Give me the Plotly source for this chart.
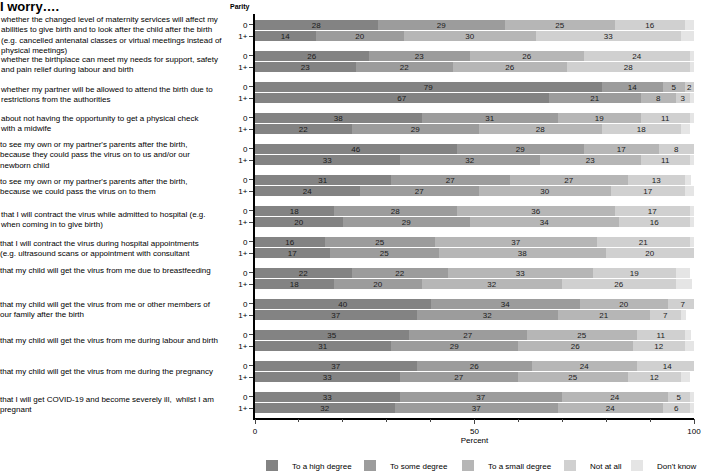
import plotly.graph_objects as go

questions = [
    "whether the changed level of maternity services will affect my<br>abilities to give birth and to look after the child after the birth<br>(e.g. cancelled antenatal classes or virtual meetings instead of<br>physical meetings)",
    "whether the birthplace can meet my needs for support, safety<br>and pain relief during labour and birth",
    "whether my partner will be allowed to attend the birth due to<br>restrictions from the authorities",
    "about not having the opportunity to get a physical check<br>with a midwife",
    "to see my own or my partner's parents after the birth,<br>because they could pass the virus on to us and/or our<br>newborn child",
    "to see my own or my partner's parents after the birth,<br>because we could pass the virus on to them",
    "that I will contract the virus while admitted to hospital (e.g.<br>when coming in to give birth)",
    "that I will contract the virus during hospital appointments<br>(e.g. ultrasound scans or appointment with consultant",
    "that my child will get the virus from me due to breastfeeding",
    "that my child will get the virus from me or other members of<br>our family after the birth",
    "that my child will get the virus from me during labour and birth",
    "that my child will get the virus from me during the pregnancy",
    "that I will get COVID-19 and become severely ill,  whilst I am<br>pregnant",
]
parity = ["0", "1+"]
categories = ["To a high degree", "To some degree", "To a small degree", "Not at all", "Don't know"]

# values per question: [parity 0, parity 1+]
high_degree = [28, 14, 26, 23, 79, 67, 38, 22, 46, 33, 31, 24, 18, 20, 16, 17, 22, 18, 40, 37, 35, 31, 37, 33, 33, 32]
some_degree = [29, 20, 23, 22, 14, 21, 31, 29, 29, 32, 27, 27, 28, 29, 25, 25, 22, 20, 34, 32, 27, 29, 26, 27, 37, 37]
small_degree = [25, 30, 26, 26, 5, 8, 19, 28, 17, 23, 27, 30, 36, 34, 37, 38, 33, 32, 20, 21, 25, 26, 24, 25, 24, 24]
not_at_all = [16, 33, 24, 28, 2, 3, 11, 18, 8, 11, 13, 17, 17, 16, 21, 20, 19, 26, 7, 7, 11, 12, 14, 12, 5, 6]
dont_know = [2.4, 3, 1.2, 1.5, 0.5, 1, 1, 2, 0.8, 1, 1.4, 2, 1, 1, 1, 0.8, 3.2, 3.5, 0.5, 1.1, 1.3, 2, 0.6, 2, 1, 1]

colors = ["#838383", "#9c9c9c", "#b6b6b6", "#d0d0d0", "#e5e5e5"]
series = [high_degree, some_degree, small_degree, not_at_all, dont_know]

G = 2.7
ypos = []
yticktext = []
for i in range(len(questions)):
    ypos += [i * G, i * G + 1]
    yticktext += parity

FONT = "Arial, Liberation Sans, sans-serif"
W, H = 709, 471
legend_ids = ["legend2", "legend3", "legend4", "legend5", "legend6"]
legend_left = [252, 350, 448, 550, 617]

fig = go.Figure()
for k, (name, vals) in enumerate(zip(categories, series)):
    show_text = k < 4
    fig.add_trace(go.Bar(
        name=name, orientation="h", y=ypos, x=vals,
        marker=dict(color=colors[k], line=dict(width=0)),
        width=0.88,
        text=[str(v) for v in vals] if show_text else None,
        textposition="inside" if show_text else "none",
        insidetextanchor="middle",
        textangle=0,
        textfont=dict(size=8, color="#1a1a1a", family=FONT),
        hoverinfo="x+name",
        legend=legend_ids[k],
        showlegend=True,
    ))

L, R, T, B = 255, 8, 14, 50
pw = W - L - R
ph = H - T - B
lx = -L / pw

annotations = []
yshifts = [-4, -2.5, -1.5, 0, 0, -1, -3, -1, 8, 0, 0, 0, -1.5]
for i, q in enumerate(questions):
    annotations.append(dict(
        text=q, x=lx, xref="paper", y=i * G + 0.5, yref="y", xshift=-6,
        xanchor="left", yanchor="middle", align="left", showarrow=False,
        yshift=yshifts[i], font=dict(size=8, family=FONT, color="#000")))
annotations.append(dict(text="<b>I worry….</b>", x=lx, xref="paper", y=(ph + T - 6.5) / ph, yref="paper",
                        xanchor="left", yanchor="middle", showarrow=False, xshift=-6,
                        font=dict(size=13, family=FONT, color="#000")))
annotations.append(dict(text="<b>Parity</b>", x=-3 / pw, xref="paper", y=(ph + T - 7) / ph, yref="paper",
                        xanchor="right", yanchor="middle", showarrow=False,
                        font=dict(size=7, family=FONT, color="#000")))

legends = {}
for k, lid in enumerate(legend_ids):
    legends[lid] = dict(orientation="h", xref="container", x=legend_left[k] / W, xanchor="left",
                        yref="container", y=5 / H, yanchor="middle",
                        font=dict(size=8, family=FONT), itemwidth=30, bgcolor="rgba(0,0,0,0)")

fig.update_layout(
    barmode="stack", bargap=0,
    width=W, height=H,
    margin=dict(l=L, r=R, t=T, b=B),
    plot_bgcolor="white", paper_bgcolor="white",
    font=dict(family=FONT, size=8, color="#000"),
    annotations=annotations,
    uniformtext=dict(minsize=8, mode="show"),
    xaxis=dict(range=[0, 100], tickvals=[0, 50, 100], ticks="outside", ticklen=5, tickwidth=1.2,
               showline=True, linewidth=1.5, linecolor="#000", showgrid=False, zeroline=False,
               title=dict(text="Percent", font=dict(size=8), standoff=2),
               minor=dict(dtick=10, ticks="outside", ticklen=3, tickwidth=1, showgrid=False),
               tickfont=dict(size=8)),
    yaxis=dict(range=[34.2, -0.95], tickvals=ypos, ticktext=yticktext, ticks="outside", ticklen=4,
               tickwidth=1.2, showline=True, linewidth=2, linecolor="#000", showgrid=False,
               zeroline=False, tickfont=dict(size=8)),
    **legends,
)

fig.write_html("out.html", config={"displayModeBar": False},
               post_script="document.body.style.margin='0';document.body.style.overflow='hidden';")
